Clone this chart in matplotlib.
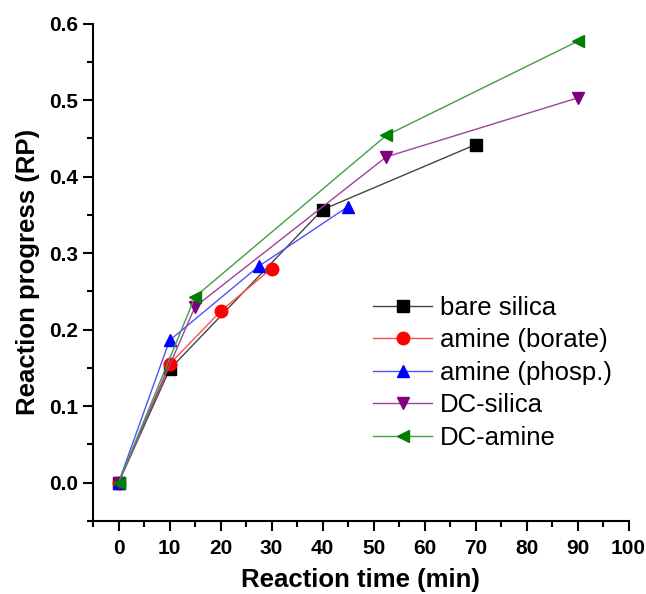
import numpy as np
import matplotlib.pyplot as plt
from matplotlib.ticker import MultipleLocator

plt.rcParams['font.family'] = ['Liberation Sans', 'DejaVu Sans']

# Data
t_bare = [0, 10, 40, 70]
rp_bare = [0.0, 0.148, 0.357, 0.442]

t_borate = [0, 10, 20, 30]
rp_borate = [0.0, 0.155, 0.224, 0.280]

t_phosp = [0, 10, 27.5, 45]
rp_phosp = [0.0, 0.186, 0.283, 0.361]

t_dcsil = [0, 15, 52.5, 90]
rp_dcsil = [0.0, 0.230, 0.426, 0.503]

t_dcam = [0, 15, 52.5, 90]
rp_dcam = [0.0, 0.243, 0.454, 0.577]

labels = ["bare silica", "amine (borate)", "amine (phosp.)", "DC-silica", "DC-amine"]


def main():
    fig = plt.figure(figsize=(6.46, 5.94), dpi=100)
    ax = fig.add_axes([0.144, 0.123, 0.829, 0.837])

    series = [
        (t_bare, rp_bare, "s", "black", "#444444", 8),
        (t_borate, rp_borate, "o", "red", "#ff5050", 9),
        (t_phosp, rp_phosp, "^", "blue", "#5050ff", 9),
        (t_dcsil, rp_dcsil, "v", "purple", "#a040a0", 9),
        (t_dcam, rp_dcam, "<", "green", "#40a040", 9),
    ]
    for (x, y, m, mc, lc, ms), lab in zip(series, labels):
        ax.plot(x, y, color=lc, lw=1.0, marker=m, ms=ms,
                mfc=mc, mec=mc, label=lab)

    ax.set_xlim(-5, 100)
    ax.set_ylim(-0.05, 0.6)
    ax.xaxis.set_major_locator(MultipleLocator(10))
    ax.xaxis.set_minor_locator(MultipleLocator(5))
    ax.yaxis.set_major_locator(MultipleLocator(0.1))
    ax.yaxis.set_minor_locator(MultipleLocator(0.05))
    ax.yaxis.set_major_formatter(plt.FormatStrFormatter("%.1f"))

    for s in ["top", "right"]:
        ax.spines[s].set_visible(False)
    for s in ["left", "bottom"]:
        ax.spines[s].set_linewidth(1.5)

    ax.tick_params(which="major", direction="out", length=7, width=1.5,
                   labelsize=15)
    ax.tick_params(axis="x", which="major", pad=6)
    ax.tick_params(which="minor", direction="out", length=4, width=1.5)
    for lbl in ax.get_xticklabels() + ax.get_yticklabels():
        lbl.set_fontweight("bold")

    ax.set_xlabel("Reaction time (min)", fontsize=18.5, fontweight="bold",
                  labelpad=7)
    ax.set_ylabel("Reaction progress (RP)", fontsize=18.5, fontweight="bold",
                  labelpad=7)

    ax.legend(loc="upper left", bbox_to_anchor=(373 / 646, 1 - 296 / 594),
              bbox_transform=fig.transFigure, frameon=False,
              fontsize=18.5, handlelength=2.3, labelspacing=0.33,
              handletextpad=0.3, borderpad=0, borderaxespad=0)

    fig.savefig("out.png", dpi=100)


if __name__ == "__main__":
    main()
